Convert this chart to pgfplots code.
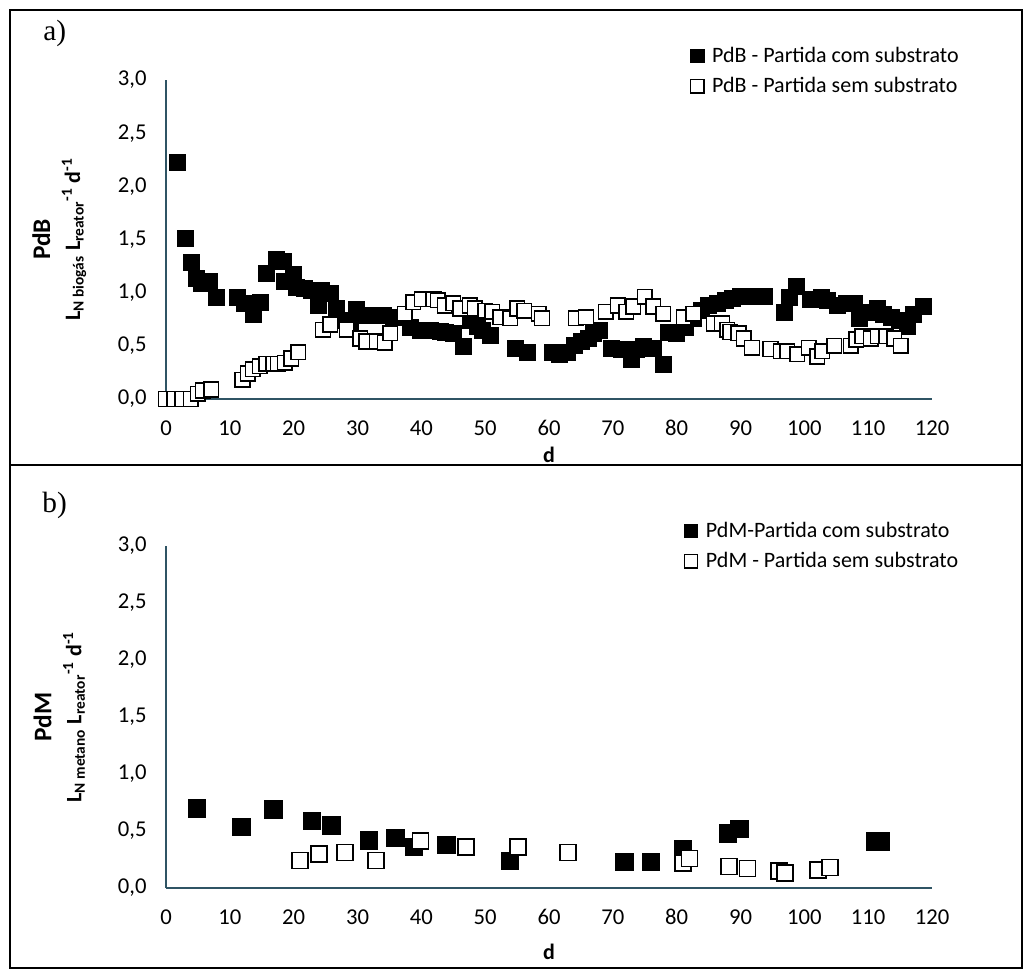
\documentclass[border=0pt]{standalone}
\usepackage{pgfplots}
\pgfplotsset{compat=1.18}
\usepackage{fontspec}
\setmainfont{Carlito}
\newfontfamily\seriffont{Liberation Serif}
\definecolor{axc}{HTML}{2F5464}
\begin{document}
\begin{tikzpicture}
\useasboundingbox (0,0) rectangle (770.25pt,-726.75pt);
\draw[line width=0.9pt] (7.5pt,-7.5pt) rectangle (766.5pt,-348.75pt);
\draw[line width=0.9pt] (7.5pt,-348.75pt) rectangle (766.5pt,-726pt);
\node[font=\seriffont\fontsize{22}{26}\selectfont] at (41pt,-24.75pt) {a)};
\node[font=\seriffont\fontsize{22}{26}\selectfont] at (41pt,-378.75pt) {b)};
\pgfplotsset{mystyle/.style={
  scale only axis, width=574.5pt, xmin=0, xmax=120, ymin=0, ymax=3,
  axis x line*=bottom, axis y line*=left,
  axis line style={axc, line width=1.2pt},
  xtick={0,10,...,120}, ytick={0,0.5,...,3},
  major tick length=0pt,
  tick label style={font=\fontsize{17}{19}\selectfont},
  /pgf/number format/assume math mode=true,
  yticklabel style={xshift=-11pt, /pgf/number format/.cd, use comma, fixed, fixed zerofill, precision=1},
  xticklabel style={yshift=-12.5pt},
  xlabel={d},
  ylabel style={font=\bfseries\fontsize{16.5}{22.5}\selectfont, align=center, at={(axis description cs:0,0.5)}, anchor=center, yshift=80pt},
  legend style={draw=none, fill=none, inner sep=0pt, row sep=6pt, font=\fontsize{16.5}{18}\selectfont, cells={anchor=west}},
  legend image code/.code={\draw[##1, mark size=5pt] plot coordinates {(0pt,0pt)}; \path (-5pt,0pt) (9pt,0pt);},
  clip=false,
}}
\begin{axis}[mystyle, at={(124.5pt,-299.25pt)}, anchor=south west, height=239.25pt,
  xlabel style={font=\bfseries\fontsize{16.5}{18}\selectfont, at={(axis description cs:0.5,0)}, anchor=center, yshift=-42pt},
  ylabel={{\fontsize{19}{22.5}\selectfont PdB}\\L\textsubscript{N biogás} L\textsubscript{reator}\textsuperscript{-1} d\textsuperscript{-1}},
  legend style={at={(axis description cs:0.684,1.113)}, anchor=north west}]
\addplot[only marks, mark=square*, black, mark options={fill=black}, mark size=6pt] coordinates {
(1.7,2.23)(3.0,1.51)(4.0,1.29)(4.7,1.14)(5.5,1.09)(6.8,1.11)(7.9,0.96)(11.1,0.96)(12.3,0.90)(13.7,0.80)(14.7,0.91)(15.7,1.18)(17.2,1.31)(18.3,1.30)(18.6,1.11)(19.9,1.17)(20.4,1.05)(21.6,1.04)(22.8,1.02)(23.8,0.88)(24.3,1.02)(25.7,0.99)(26.7,0.85)(27.7,0.74)(28.8,0.71)(29.8,0.84)(31.2,0.79)(32.5,0.79)(34.0,0.79)(35.6,0.77)(37.2,0.77)(38.2,0.67)(39.8,0.65)(41.4,0.65)(42.9,0.64)(43.7,0.63)(45.0,0.62)(46.6,0.50)(47.6,0.74)(48.7,0.68)(49.5,0.65)(50.8,0.60)(54.7,0.48)(56.6,0.44)(60.5,0.44)(61.6,0.42)(62.9,0.44)(63.9,0.51)(65.0,0.54)(66.1,0.57)(66.9,0.62)(67.8,0.65)(69.7,0.48)(71.3,0.47)(72.9,0.37)(73.7,0.47)(74.7,0.50)(76.3,0.48)(77.9,0.33)(78.7,0.63)(80.0,0.62)(81.3,0.67)(82.6,0.76)(83.9,0.83)(85.0,0.88)(86.3,0.90)(87.6,0.93)(88.7,0.95)(90.0,0.97)(91.3,0.97)(92.6,0.97)(93.7,0.97)(96.9,0.82)(97.6,0.96)(98.7,1.06)(101.0,0.94)(102.6,0.96)(103.6,0.93)(105.2,0.88)(106.5,0.90)(107.8,0.90)(108.6,0.76)(109.9,0.82)(111.5,0.85)(112.3,0.80)(113.6,0.77)(114.9,0.74)(116.2,0.68)(117.0,0.80)(118.6,0.87)
};
\addlegendentry{PdB - Partida com substrato}
\addplot[only marks, mark=square*, black, mark options={fill=white, line width=1.2pt}, mark size=5.5pt] coordinates {
(0,0.0)(1.3,0.0)(2.6,0.0)(3.9,0.0)(5.0,0.05)(5.8,0.08)(7.1,0.09)(12.0,0.18)(12.8,0.24)(13.6,0.28)(14.7,0.31)(15.7,0.33)(16.8,0.33)(17.5,0.33)(18.6,0.34)(19.6,0.38)(20.7,0.44)(24.6,0.65)(25.7,0.70)(28.3,0.65)(30.4,0.57)(31.4,0.54)(33.0,0.54)(34.3,0.53)(35.1,0.62)(37.4,0.80)(38.7,0.91)(40.1,0.94)(41.9,0.94)(42.6,0.93)(43.7,0.88)(45.0,0.90)(46.1,0.85)(47.6,0.88)(48.4,0.85)(50.0,0.83)(51.1,0.82)(52.4,0.77)(53.9,0.76)(55.0,0.85)(56.1,0.83)(58.4,0.80)(58.9,0.76)(64.2,0.76)(65.8,0.77)(68.9,0.82)(70.8,0.88)(72.1,0.82)(73.2,0.87)(75.0,0.96)(76.3,0.87)(77.9,0.80)(81.1,0.77)(82.6,0.80)(85.8,0.71)(87.1,0.71)(87.9,0.65)(88.4,0.63)(89.7,0.62)(90.5,0.57)(91.8,0.48)(94.7,0.47)(96.3,0.45)(97.3,0.45)(98.9,0.42)(100.7,0.48)(102.0,0.40)(102.8,0.45)(104.7,0.50)(107.3,0.50)(108.1,0.56)(109.1,0.59)(110.4,0.57)(111.5,0.59)(112.8,0.59)(114.1,0.57)(115.1,0.50)
};
\addlegendentry{PdB - Partida sem substrato}
\end{axis}
\begin{axis}[mystyle, at={(124.5pt,-666pt)}, anchor=south west, height=256.5pt,
  xlabel style={font=\bfseries\fontsize{16.5}{18}\selectfont, at={(axis description cs:0.5,0)}, anchor=center, yshift=-48pt},
  ylabel={{\fontsize{19}{22.5}\selectfont PdM}\\L\textsubscript{N metano} L\textsubscript{reator}\textsuperscript{-1} d\textsuperscript{-1}},
  legend style={at={(axis description cs:0.676,1.079)}, anchor=north west}]
\addplot[only marks, mark=square*, black, mark options={fill=black}, mark size=6.5pt] coordinates {
(4.8,0.70)(11.8,0.54)(16.8,0.69)(22.8,0.59)(25.9,0.55)(31.8,0.42)(35.9,0.44)(38.8,0.36)(43.9,0.38)(53.9,0.24)(71.8,0.23)(75.9,0.23)(81,0.34)(88,0.48)(89.8,0.52)(111,0.41)(112,0.41)
};
\addlegendentry{PdM-Partida com substrato}
\addplot[only marks, mark=square*, black, mark options={fill=white, line width=1.2pt}, mark size=6pt] coordinates {
(21,0.24)(24,0.30)(28,0.31)(32.9,0.24)(39.9,0.41)(47,0.36)(55.1,0.36)(63,0.31)(81,0.22)(82,0.26)(88.2,0.19)(91.1,0.17)(96,0.15)(97,0.13)(102.1,0.16)(104,0.18)
};
\addlegendentry{PdM - Partida sem substrato}
\end{axis}
\end{tikzpicture}
\end{document}
